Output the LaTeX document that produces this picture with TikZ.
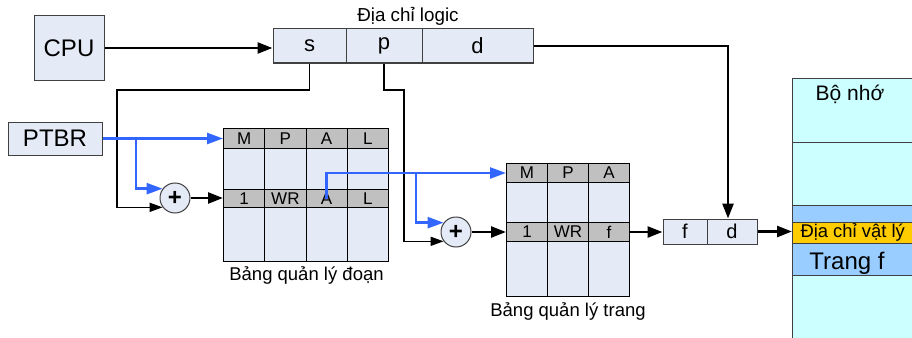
\documentclass[tikz,border=0pt]{standalone}
\usepackage{fontspec}
\setmainfont{Liberation Sans}
\usepackage{xcolor}
\definecolor{BoxFill}{HTML}{E4EBF6}
\definecolor{HeadGrey}{HTML}{C0C0C0}
\definecolor{LinkBlue}{HTML}{3366FF}
\definecolor{MemCyan}{HTML}{CCFFFF}
\definecolor{MemBlue}{HTML}{99CCFF}
\definecolor{AddrGold}{HTML}{FFCC00}
\definecolor{EdgeGrey}{HTML}{404040}
\usetikzlibrary{calc,positioning,arrows.meta}
\newcommand{\pxfont}[1]{\fontsize{#1}{#1}\selectfont}

\begin{document}
\begin{tikzpicture}[
      x=1pt, y=-1pt,
      box/.style={draw=EdgeGrey, fill=BoxFill, line width=1pt, inner sep=0pt, align=center},
      cell/.style={draw=black, fill=BoxFill, line width=1pt, inner sep=0pt, anchor=north west, font=\pxfont{17}},
      head/.style={cell, fill=HeadGrey},
      sum/.style={circle, draw=EdgeGrey, fill=BoxFill, line width=1pt, minimum size=30pt, inner sep=0pt, font=\bfseries\pxfont{24}},
      memcell/.style={draw=EdgeGrey, line width=1pt, inner sep=0pt, anchor=north west, minimum width=140pt, fill=MemCyan},
      arr/.style={-{Triangle[length=15pt,width=11pt]}, black, line width=2.6pt},
      thinarr/.style={-{Triangle[length=13pt,width=9pt]}, black, line width=1.4pt},
      bluearr/.style={-{Triangle[length=16pt,width=11pt]}, LinkBlue, line width=2.4pt}
    ]
    \clip (0,0) rectangle (912,337);
    % sources
    \node[box, minimum width=70pt, minimum height=64pt, font=\pxfont{24}] (cpu) at (69,48) {CPU};
    \node[box, minimum width=94pt, minimum height=33pt, font=\pxfont{24}] (ptbr) at (55,138.5) {PTBR};
    % logical address
    \node[box, minimum width=73pt, minimum height=34pt, font=\pxfont{22}] (s) at (309.5,46) {s};
    \node[box, minimum width=76pt, minimum height=34pt, font=\pxfont{22}] (p) at (384,46) {p};
    \node[box, minimum width=111pt, minimum height=34pt, font=\pxfont{22}] (d) at (477.5,46) {d};
    \node[font=\pxfont{18.8}] (logic) at (408,16) {Địa chỉ logic};
    % segment table
    \foreach \h/\r [count=\i] in {M/1, P/WR, A/A, L/L} {
      \node[cell, minimum width=41.25pt, minimum height=133pt] (segcol\i) at ({223+41.25*(\i-1)},128) {};
      \node[head, minimum width=41.25pt, minimum height=20pt] (segh\i) at ({223+41.25*(\i-1)},128) {\h};
      \node[head, minimum width=41.25pt, minimum height=18pt] (segr\i) at ({223+41.25*(\i-1)},189) {\r};
    }
    \node[font=\pxfont{18.5}, below=1pt of segcol2.south east] (seglbl) {Bảng quản lý đoạn};
    % page table
    \foreach \h/\r [count=\i] in {M/1, P/WR, A/f} {
      \node[cell, minimum width=41pt, minimum height=133pt] (pgcol\i) at ({506+41*(\i-1)},163) {};
      \node[head, minimum width=41pt, minimum height=19pt] (pgh\i) at ({506+41*(\i-1)},163) {\h};
      \node[head, minimum width=41pt, minimum height=19pt] (pgr\i) at ({506+41*(\i-1)},222) {\r};
    }
    \node[font=\pxfont{18.5}, below=2pt of pgcol2.south] (pglbl) {Bảng quản lý trang};
    % adders
    \node[sum] (sum1) at (175,198) {+};
    \node[sum] (sum2) at (456,232) {+};
    % physical address
    \node[box, minimum width=44pt, minimum height=25pt, font=\pxfont{20}] (fdf) at (685,231.5) {f};
    \node[box, minimum width=50pt, minimum height=25pt, font=\pxfont{20}] (fdd) at (732,231.5) {d};
    % memory
    \node[memcell, minimum height=64pt] (mem1) at (792,78) {};
    \node[memcell, minimum height=63pt] (mem2) at (792,142) {};
    \node[memcell, minimum height=70pt, fill=MemBlue] (mem3) at (792,205) {};
    \node[memcell, minimum height=70pt] (mem4) at (792,275) {};
    \node[memcell, minimum height=21pt, fill=AddrGold] (paddr) at (792,222) {};
    \node[font=\pxfont{21}] (memlbl) at (850,94) {Bộ nhớ};
    \node[font=\pxfont{18.4}, anchor=west] (paddrlbl) at (797,232.5) {Địa chỉ vật lý};
    \node[font=\pxfont{24}] (pagef) at (847,263) {Trang f};
    % connectors
    \draw[arr] (cpu.east) -- (cpu.east -| s.west);
    \draw[arr] (d.east) -| ([xshift=-4pt]fdd.north);
    \draw[thinarr] (s.south) |- (117,90) |- (sum1.217);
    \draw[thinarr] (p.south) |- (404,90) |- (sum2.217);
    \draw[bluearr] (ptbr.east) -- (ptbr.east -| segh1.west);
    \draw[bluearr] (136,138.5) |- (sum1.143);
    \draw[arr] (sum1.east) -- (sum1.east -| segr1.west);
    \draw[bluearr] (segr3.center) |- (pgh1.west);
    \draw[bluearr] (416,172.5) |- (sum2.143);
    \draw[arr] (sum2.east) -- (sum2.east -| pgr1.west);
    \draw[arr] (pgr3.east) -- (pgr3.east -| fdf.west);
    \draw[arr] (fdd.east) -- (fdd.east -| paddr.west);
  \end{tikzpicture}
\end{document}
